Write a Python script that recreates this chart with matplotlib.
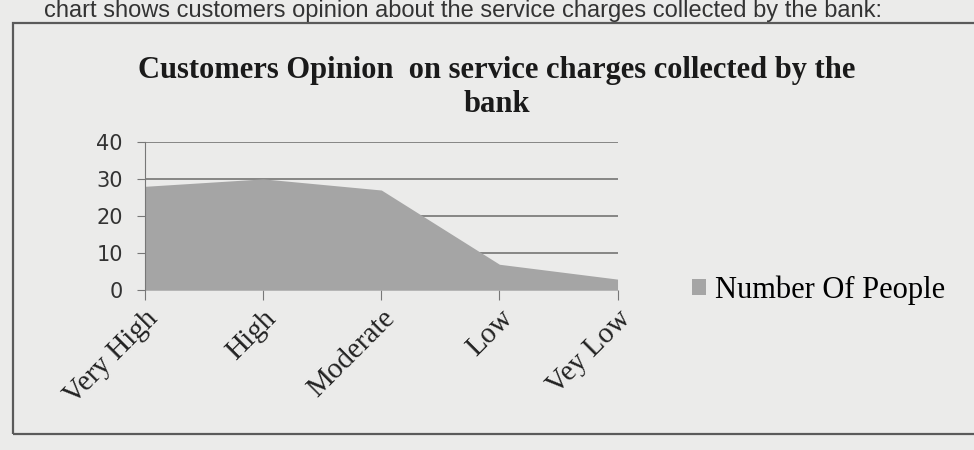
import matplotlib.pyplot as plt
from matplotlib.patches import Rectangle

# opinion categories and number of respondents
opinions = ['Very High', 'High', 'Moderate', 'Low', 'Vey Low']
people = [28, 30, 27, 7, 3]
y_ticks = [0, 10, 20, 30, 40]

paper = '#ebebea'
fill = '#a5a5a5'

fig = plt.figure(figsize=(9.74, 4.5), dpi=100, facecolor=paper)
ax = fig.add_axes([0.149, 0.355, 0.485, 0.33], facecolor=paper)

x = range(len(opinions))
ax.fill_between(x, people, 0, color=fill, linewidth=0, zorder=2)

ax.set_xlim(0, len(opinions) - 1)
ax.set_ylim(0, 40)
ax.set_yticks(y_ticks)
ax.set_yticklabels([str(v) for v in y_ticks], fontsize=15, color='#333333',
                   family='DejaVu Sans')
ax.yaxis.grid(True, color='#6a6a6a', linewidth=1.1, zorder=1)
ax.set_axisbelow(True)

ax.set_xticks(list(x))
ax.set_xticklabels(opinions, rotation=45, ha='right', rotation_mode='anchor',
                   fontsize=21, family='Liberation Serif', color='#222222')
ax.tick_params(axis='x', length=7, color='#777777', pad=4)
ax.tick_params(axis='y', length=6, color='#777777', pad=10)

for side in ['top', 'right', 'bottom']:
    ax.spines[side].set_visible(False)
ax.spines['left'].set_color('#777777')

ax.legend(['Number Of People'], loc='center left', bbox_to_anchor=(1.1, 0.0),
          frameon=False, handlelength=0.45, handleheight=0.45, handletextpad=0.3,
          prop={'family': 'Liberation Serif', 'size': 22})

fig.text(0.51, 0.805, 'Customers Opinion  on service charges collected by the\nbank',
         ha='center', va='center', fontsize=22, fontweight='bold',
         family='Liberation Serif', color='#1a1a1a', linespacing=1.25)

# line of body text above the chart box
fig.text(0.045, 0.999, 'chart shows customers opinion about the service charges collected by the bank:',
         ha='left', va='top', fontsize=17, family='Liberation Sans',
         color='#333333')

fig.patches.append(Rectangle((0.013, 0.035), 1.0, 0.915, transform=fig.transFigure,
                             fill=False, edgecolor='#5a5a5a', linewidth=1.6))

fig.savefig('out.png', dpi=100, facecolor=paper)
